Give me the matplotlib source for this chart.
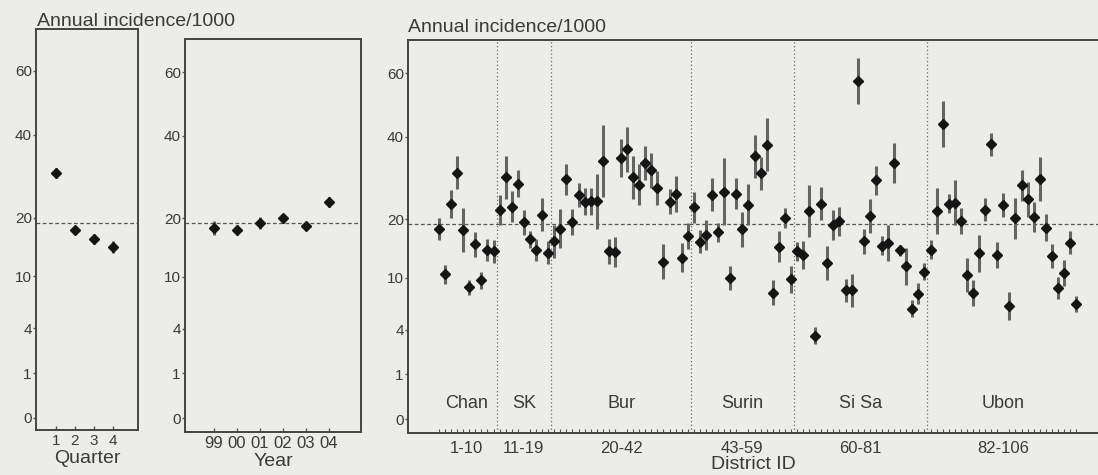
import numpy as np
import matplotlib
matplotlib.use("Agg")
import matplotlib.pyplot as plt
import matplotlib.transforms as mtransforms

plt.rcParams['font.family'] = ['Liberation Sans', 'DejaVu Sans']

# ---- data (annual incidence per 1000, ci = half width on sqrt scale) ----
quarters = [1, 2, 3, 4]
quarter_inc = [29.9, 17.6, 16.0, 14.6]
quarter_ci = [0.11, 0.07, 0.11, 0.13]

year_labels = ['99', '00', '01', '02', '03', '04']
year_inc = [18.1, 17.7, 19.1, 20.0, 18.5, 23.4]
year_ci = [0.16, 0.11, 0.13, 0.11, 0.09, 0.11]

groups = ['Chan', 'SK', 'Bur', 'Surin', 'Si Sa', 'Ubon']
group_ranges = ['1-10', '11-19', '20-42', '43-59', '60-81', '82-106']
group_sizes = [10, 9, 23, 17, 22, 25]

district_inc = [
    # Chan
    18.1, 10.5, 23.2, 30.4, 17.9, 8.7, 15.3, 9.7, 14.3, 14.1,
    # SK
    21.9, 29.3, 22.6, 27.8, 19.4, 16.2, 14.3, 21.0, 13.9,
    # Bur
    15.9, 18.2, 28.8, 19.5, 25.1, 23.7, 23.8, 23.8, 33.4, 14.1, 14.0, 34.2,
    36.5, 29.3, 27.6, 32.9, 31.1, 26.8, 12.4, 23.7, 25.4, 13.1, 16.8,
    # Surin
    22.5, 15.8, 17.0, 25.3, 17.5, 25.9, 10.0, 25.5, 18.1, 23.1, 34.7, 30.3,
    37.8, 8.0, 14.9, 20.3, 9.8,
    # Si Sa
    14.1, 13.5, 21.7, 3.5, 23.3, 12.3, 18.9, 19.6, 8.3, 8.3, 57.3, 15.9,
    20.7, 28.6, 15.1, 15.5, 32.9, 14.3, 11.7, 6.1, 7.9, 10.9,
    # Ubon
    14.4, 21.7, 43.6, 23.3, 23.5, 19.7, 10.4, 8.0, 13.8, 22.0, 37.9, 13.5,
    23.0, 6.4, 20.2, 27.4, 24.2, 20.5, 29.0, 18.4, 13.4, 8.6, 10.7, 15.6, 6.7,
]
district_ci = [
    0.24, 0.22, 0.31, 0.37, 0.49, 0.17, 0.29, 0.19, 0.25, 0.25,
    0.33, 0.49, 0.35, 0.30, 0.29, 0.19, 0.25, 0.37, 0.25,
    0.37, 0.44, 0.35, 0.29, 0.27, 0.30, 0.30, 0.62, 0.80, 0.28, 0.34, 0.42,
    0.50, 0.49, 0.45, 0.39, 0.39, 0.39, 0.39, 0.28, 0.40, 0.32, 0.29,
    0.35, 0.25, 0.33, 0.36, 0.21, 0.75, 0.27, 0.34, 0.39, 0.46, 0.48, 0.37,
    0.60, 0.28, 0.35, 0.22, 0.31,
    0.21, 0.32, 0.58, 0.19, 0.37, 0.38, 0.34, 0.32, 0.25, 0.38, 0.52, 0.28,
    0.39, 0.32, 0.21, 0.40, 0.45, 0.12, 0.41, 0.19, 0.24, 0.19,
    0.21, 0.51, 0.51, 0.21, 0.50, 0.30, 0.38, 0.29, 0.41, 0.26, 0.26, 0.29,
    0.26, 0.32, 0.45, 0.34, 0.40, 0.34, 0.49, 0.31, 0.27, 0.24, 0.30, 0.26, 0.18,
]
overall_mean = 19.0

ytick_vals = [0, 1, 4, 10, 20, 40, 60]

# ---- style ----
bg = '#ecece9'
ink = '#3a3a3a'
W, H = 1098, 475

fig = plt.figure(figsize=(W / 100, H / 100), dpi=100, facecolor=bg)


def px_axes(left, top, right, bottom):
    return fig.add_axes([left / W, 1 - bottom / H, (right - left) / W, (bottom - top) / H],
                        facecolor=bg)


def style_axes(ax):
    for s in ax.spines.values():
        s.set_color('#444444')
        s.set_linewidth(1.4)
    ax.set_yticks(np.sqrt(ytick_vals))
    ax.set_yticklabels([str(v) for v in ytick_vals])
    ax.tick_params(axis='y', direction='out', length=2, width=1, colors='#555555',
                   labelcolor=ink, labelsize=11, pad=1)
    ax.tick_params(axis='x', direction='in', length=3, width=1, colors='#555555',
                   labelcolor=ink, labelsize=11, pad=3)


def draw_points(ax, x, vals, ci):
    s = np.sqrt(np.array(vals))
    ax.errorbar(x, s, yerr=np.array(ci), fmt='none', ecolor='#646464',
                elinewidth=2.2, capsize=0, zorder=2)
    ax.plot(x, s, linestyle='none', marker='D', ms=5.2, color='#151515', zorder=3)
    ax.axhline(np.sqrt(overall_mean), color='#555555', lw=0.9, ls=(0, (3, 2)), zorder=1)


# ---- panel 1: quarter ----
ax1 = px_axes(36, 29, 138, 430)
draw_points(ax1, quarters, quarter_inc, quarter_ci)
style_axes(ax1)
ax1.set_xlim(-0.05, 5.32)
ax1.set_ylim(-0.27, 8.68)
ax1.set_xticks(quarters)
ax1.set_xticklabels([str(q) for q in quarters])
ax1.set_xlabel('Quarter', fontsize=14, color=ink, labelpad=1)

# ---- panel 2: year ----
ax2 = px_axes(185, 39, 361, 432)
xy = np.arange(len(year_labels))
draw_points(ax2, xy, year_inc, year_ci)
style_axes(ax2)
ax2.set_xlim(-1.26, 6.39)
ax2.set_ylim(-0.31, 8.49)
ax2.set_xticks(xy)
ax2.set_xticklabels(year_labels, fontsize=12)
ax2.set_xlabel('Year', fontsize=14, color=ink, labelpad=1)

# ---- panel 3: district ----
ax3 = px_axes(408, 40, W, 433)
xd = np.arange(1, len(district_inc) + 1)
draw_points(ax3, xd, district_inc, district_ci)
style_axes(ax3)
ax3.spines['right'].set_visible(False)
ax3.set_xlim(-4.1, 109.6)
ax3.set_ylim(-0.31, 8.49)

edges = np.cumsum([0] + group_sizes)
centers = (edges[:-1] + 1 + edges[1:]) / 2
for b in edges[1:-1]:
    ax3.axvline(b + 0.5, color='#666666', lw=0.9, ls=(0, (1, 2)), zorder=1)
ax3.set_xticks(centers)
ax3.set_xticklabels(group_ranges, fontsize=12)
ax3.set_xticks(xd, minor=True)
ax3.tick_params(axis='x', which='major', length=0, pad=6)
ax3.tick_params(axis='x', which='minor', direction='in', length=3, width=0.8,
                colors='#555555')
ax3.set_xlabel('District ID', fontsize=14, color=ink, labelpad=0)

trans = mtransforms.blended_transform_factory(ax3.transData, ax3.transAxes)
for name, c in zip(groups, centers):
    ax3.text(c, 0.076, name, transform=trans, ha='center', va='center',
             fontsize=13, color=ink)

# ---- titles ----
fig.text(37 / W, 1 - 21 / H, 'Annual incidence/1000', fontsize=14, color=ink,
         ha='left', va='center')
fig.text(408 / W, 1 - 28 / H, 'Annual incidence/1000', fontsize=14, color=ink,
         ha='left', va='center')

fig.savefig('out.png', dpi=100, facecolor=bg)
